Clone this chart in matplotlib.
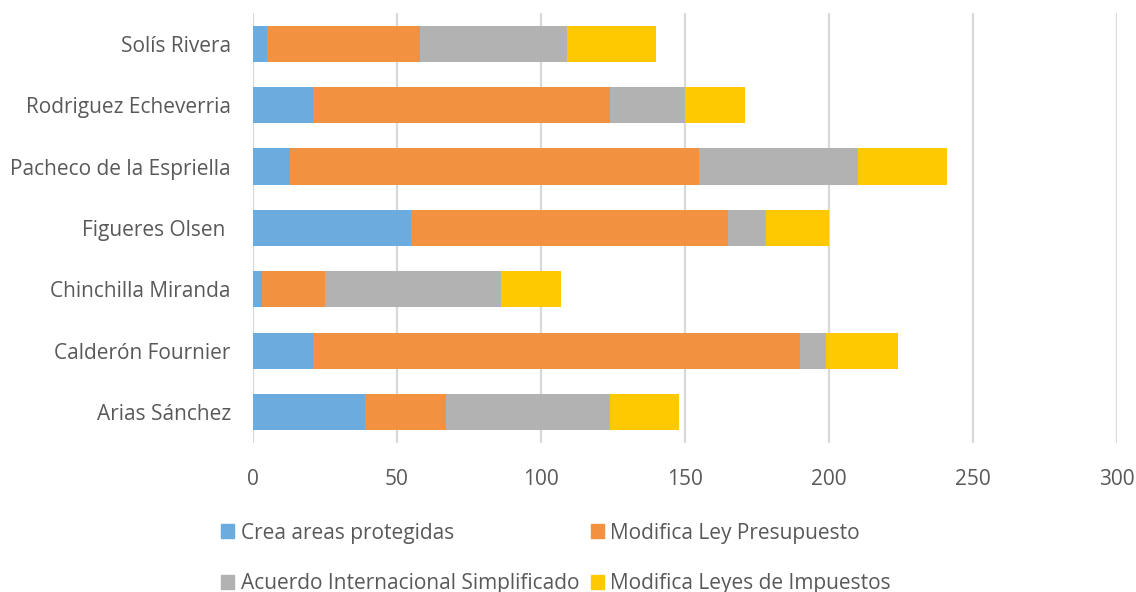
import numpy as np
import matplotlib.pyplot as plt
from matplotlib.patches import Patch

plt.rcParams['font.family'] = ['Open Sans', 'DejaVu Sans']

# datos (de abajo hacia arriba)
presidentes = ['Arias Sánchez', 'Calderón Fournier', 'Chinchilla Miranda', 'Figueres Olsen ',
               'Pacheco de la Espriella', 'Rodriguez Echeverria', 'Solís Rivera']
crea_areas = [39, 21, 3, 55, 13, 21, 5]
modifica_presupuesto = [28, 169, 22, 110, 142, 103, 53]
acuerdo_internacional = [57, 9, 61, 13, 55, 26, 51]
modifica_impuestos = [24, 25, 21, 22, 31, 21, 31]

series = ['Crea areas protegidas', 'Modifica Ley Presupuesto',
          'Acuerdo Internacional Simplificado', 'Modifica Leyes de Impuestos']
colores = ['#6cabdd', '#f29241', '#b2b2b2', '#ffc901']
valores = [crea_areas, modifica_presupuesto, acuerdo_internacional, modifica_impuestos]

fig = plt.figure(figsize=(11.36, 5.92), dpi=100)
ax = fig.add_axes([0.2227, 0.252, 0.7606, 0.726])

y = np.arange(len(presidentes))
izq = np.zeros(len(presidentes))
for nombre, vals, c in zip(series, valores, colores):
    ax.barh(y, vals, left=izq, height=0.59, color=c, label=nombre, zorder=3)
    izq += np.array(vals)

ax.set_xlim(0, 300)
ax.set_ylim(-0.5, len(presidentes) - 0.5)
ax.set_xticks(range(0, 301, 50))
ax.set_yticks(y)
ax.set_yticklabels(presidentes)
ax.grid(axis='x', color='#d9d9d9', linewidth=1.6, zorder=0)
ax.tick_params(length=0, labelsize=15, colors='#595959')
ax.tick_params(axis='x', pad=19)
ax.tick_params(axis='y', pad=16)
for s in ax.spines.values():
    s.set_visible(False)

# orden para que las filas queden como en el original
orden = [0, 2, 1, 3]
handles = [Patch(color=colores[i]) for i in orden]
labels = [series[i] for i in orden]
fig.legend(handles, labels, loc='upper left', bbox_to_anchor=(0.1945, 0.117), ncol=2,
           frameon=False, fontsize=15, labelcolor='#595959', handlelength=0.65,
           handleheight=0.65, handletextpad=0.3, columnspacing=0.55, labelspacing=1.4,
           borderpad=0, borderaxespad=0)

fig.savefig('out.png', dpi=100)
